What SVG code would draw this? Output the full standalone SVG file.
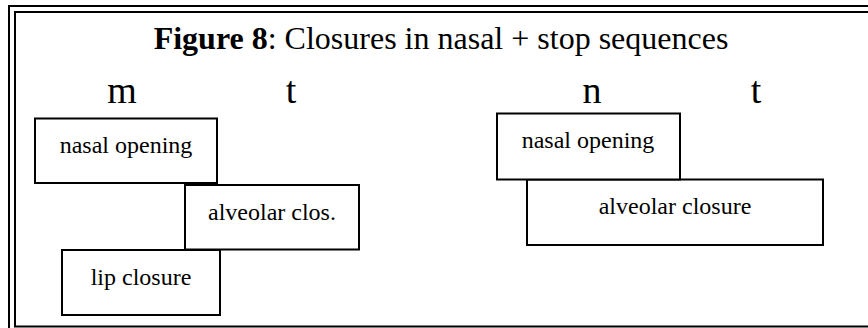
<svg xmlns="http://www.w3.org/2000/svg" width="868" height="328" viewBox="0 0 868 328">
<style>
text{font-family:"Liberation Serif","Times New Roman",serif;fill:#000}
.title{font-size:32px}
.seg{font-size:38px;text-anchor:middle}
.lbl{font-size:24px;text-anchor:middle}
.box{fill:#fff;stroke:#000;stroke-width:2}
.frame{fill:none;stroke:#000;stroke-width:2}
</style>
<rect width="868" height="328" fill="#fff"/>
<g id="frame">
<path class="frame" d="M868 6H9V328"/>
<path class="frame" d="M868 12H15V326.5H868"/>
</g>
<text id="title" class="title" x="441" y="49" text-anchor="middle"><tspan font-weight="bold">Figure 8</tspan>: Closures in nasal + stop sequences</text>
<g id="segments">
<text class="seg" x="122" y="103">m</text>
<text class="seg" x="291" y="103">t</text>
<text class="seg" x="592" y="103">n</text>
<text class="seg" x="756" y="103">t</text>
</g>
<g id="connectors"></g>
<g id="mt-nasal-opening">
<rect class="box" x="35" y="118.5" width="182" height="64.5"/>
<text class="lbl" x="126" y="152.5">nasal opening</text>
</g>
<g id="mt-alveolar-clos">
<rect class="box" x="185" y="185" width="174" height="64.5"/>
<text class="lbl" x="272" y="220">alveolar clos.</text>
</g>
<g id="mt-lip-closure">
<rect class="box" x="62" y="250" width="158" height="65"/>
<text class="lbl" x="141" y="285">lip closure</text>
</g>
<g id="nt-alveolar-closure">
<rect class="box" x="527" y="179.5" width="296" height="65.5"/>
<text class="lbl" x="675" y="213.5">alveolar closure</text>
</g>
<g id="nt-nasal-opening">
<rect class="box" x="497" y="113.5" width="183" height="66"/>
<text class="lbl" x="588" y="148">nasal opening</text>
</g>
</svg>
